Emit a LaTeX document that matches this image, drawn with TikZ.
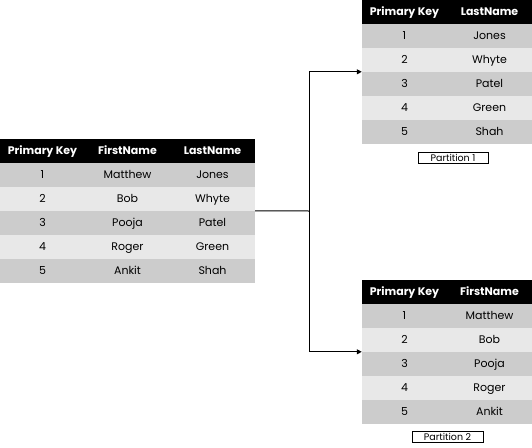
\documentclass[tikz,border=0pt]{standalone}
\usepackage{fontspec}
\setmainfont{Poppins}
\usetikzlibrary{arrows.meta}

\definecolor{rowdark}{HTML}{CCCCCC}
\definecolor{rowlight}{HTML}{E8E8E8}

\tikzset{
  cell/.style={minimum width=85pt, minimum height=24pt, inner sep=0pt,
    text height=9pt, text depth=1.3pt, font=\fontsize{11}{12}\selectfont},
  headcell/.style={cell, fill=black, text=white,
    font=\fontsize{11}{12}\selectfont\bfseries},
  darkcell/.style={cell, fill=rowdark},
  lightcell/.style={cell, fill=rowlight},
  tag/.style={draw, line width=0.8pt, minimum height=11pt, inner sep=0pt,
    text height=7.5pt, text depth=0.8pt, font=\fontsize{9.5}{10}\selectfont},
  link/.style={line width=1pt, -{Triangle[length=5pt,width=5pt]}}
}

\begin{document}
\begin{tikzpicture}[x=1pt, y=-1pt]
            \useasboundingbox (0,0) rectangle (532,447);

            % Full table (left)
            \node[headcell] (L-0-1) at (42.5,151) {Primary Key};
            \node[headcell] (L-0-2) at (127.5,151) {FirstName};
            \node[headcell] (L-0-3) at (212.5,151) {LastName};
            \foreach \n/\first/\last/\kind [count=\i] in
              {1/Matthew/Jones/darkcell, 2/Bob/Whyte/lightcell, 3/Pooja/Patel/darkcell,
               4/Roger/Green/lightcell, 5/Ankit/Shah/darkcell}{
              \node[\kind] (L-\i-1) at (42.5,151+24*\i) {\n};
              \node[\kind] (L-\i-2) at (127.5,151+24*\i) {\first};
              \node[\kind] (L-\i-3) at (212.5,151+24*\i) {\last};
            }

            % Partition 1 (top right)
            \node[headcell] (T-0-1) at (404.5,12) {Primary Key};
            \node[headcell] (T-0-2) at (489.5,12) {LastName};
            \foreach \n/\last/\kind [count=\i] in
              {1/Jones/darkcell, 2/Whyte/lightcell, 3/Patel/darkcell,
               4/Green/lightcell, 5/Shah/darkcell}{
              \node[\kind] (T-\i-1) at (404.5,12+24*\i) {\n};
              \node[\kind] (T-\i-2) at (489.5,12+24*\i) {\last};
            }
            \node[tag, minimum width=70pt] (P1) at (453,158) {Partition 1};

            % Partition 2 (bottom right)
            \node[headcell] (B-0-1) at (404.5,292) {Primary Key};
            \node[headcell] (B-0-2) at (489.5,292) {FirstName};
            \foreach \n/\first/\kind [count=\i] in
              {1/Matthew/darkcell, 2/Bob/lightcell, 3/Pooja/darkcell,
               4/Roger/lightcell, 5/Ankit/darkcell}{
              \node[\kind] (B-\i-1) at (404.5,292+24*\i) {\n};
              \node[\kind] (B-\i-2) at (489.5,292+24*\i) {\first};
            }
            \node[tag, minimum width=71pt] (P2) at (447.5,437) {Partition 2};

            % Split connector
            \coordinate (split) at (309,211);
            \draw[line width=1pt] (L-3-3.north east) -- (split);
            \draw[link] (split) |- (T-3-1.north west);
            \draw[link] (split) |- (B-3-1.north west);
\end{tikzpicture}
\end{document}
